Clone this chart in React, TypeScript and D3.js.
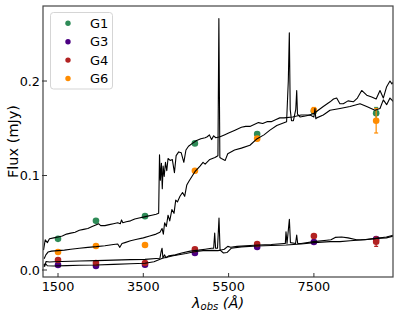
import * as d3 from "d3";

// photometric bands (observed wavelength, Å)
const bandWave = [1500, 2390, 3540, 4710, 6170, 7500, 8960];

const g1Flux = [0.033, 0.052, 0.057, 0.134, 0.144, 0.168, 0.166];
const g1Err = [0.001, 0.001, 0.001, 0.001, 0.002, 0.002, 0.006];
const g3Flux = [0.0053, 0.0042, 0.0055, 0.018, 0.0243, 0.0296, 0.0328];
const g3Err = [0.001, 0.001, 0.001, 0.001, 0.001, 0.001, 0.002];
const g4Flux = [0.0106, 0.0074, 0.0074, 0.022, 0.0275, 0.036, 0.03];
const g4Err = [0.001, 0.001, 0.001, 0.001, 0.001, 0.001, 0.005];
const g6Flux = [0.019, 0.0254, 0.0265, 0.105, 0.139, 0.169, 0.158];
const g6Err = [0.001, 0.001, 0.001, 0.002, 0.002, 0.003, 0.013];

const groups = [
  { name: "G1", color: "#2e8b57", flux: g1Flux, err: g1Err },
  { name: "G3", color: "#4b0082", flux: g3Flux, err: g3Err },
  { name: "G4", color: "#b22222", flux: g4Flux, err: g4Err },
  { name: "G6", color: "#ff8c00", flux: g6Flux, err: g6Err },
];

// model spectra [wavelength, flux]
const specA: [number, number][] = [
  [1160, 0.021], [1200, 0.032], [1250, 0.029], [1300, 0.033], [1400, 0.034], [1500, 0.035],
  [1600, 0.036], [1700, 0.038], [1800, 0.039], [1900, 0.04], [2000, 0.042], [2100, 0.043],
  [2200, 0.044], [2300, 0.046], [2400, 0.048], [2450, 0.049], [2500, 0.047], [2600, 0.047],
  [2700, 0.048], [2800, 0.049], [2900, 0.05], [2960, 0.049], [2990, 0.053], [3020, 0.05],
  [3100, 0.051], [3200, 0.052], [3300, 0.054], [3400, 0.055], [3500, 0.056], [3600, 0.057],
  [3700, 0.058], [3800, 0.059], [3860, 0.06], [3880, 0.122], [3900, 0.095], [3925, 0.113],
  [3945, 0.086], [3965, 0.11], [3990, 0.099], [4020, 0.114], [4050, 0.105], [4080, 0.118],
  [4130, 0.116], [4180, 0.117], [4230, 0.103], [4270, 0.121], [4330, 0.125], [4390, 0.124],
  [4450, 0.114], [4500, 0.127], [4560, 0.131], [4650, 0.134], [4750, 0.137], [4850, 0.139],
  [4950, 0.14], [5000, 0.141], [5050, 0.143], [5100, 0.138], [5150, 0.142], [5200, 0.14],
  [5300, 0.141], [5400, 0.143], [5500, 0.145], [5650, 0.148], [5800, 0.151], [5900, 0.152],
  [6000, 0.152], [6100, 0.154], [6200, 0.156], [6300, 0.155], [6400, 0.157], [6500, 0.157],
  [6600, 0.159], [6700, 0.161], [6800, 0.161], [7000, 0.162], [7200, 0.164], [7400, 0.164],
  [7500, 0.166], [7570, 0.168], [7720, 0.173], [7880, 0.178], [7960, 0.181], [8034, 0.182],
  [8110, 0.176], [8190, 0.176], [8300, 0.179], [8425, 0.178], [8520, 0.182], [8621, 0.19],
  [8738, 0.185], [8855, 0.183], [8960, 0.181], [9050, 0.19], [9128, 0.182], [9206, 0.194],
  [9284, 0.2], [9330, 0.197], [9370, 0.199],
];

const specB: [number, number][] = [
  [1175, 0.012], [1215, 0.016], [1265, 0.019], [1350, 0.02], [1500, 0.0205], [1650, 0.021],
  [1800, 0.022], [2000, 0.023], [2200, 0.024], [2400, 0.0247], [2600, 0.0257], [2800, 0.027],
  [2900, 0.0275], [2950, 0.024], [3000, 0.028], [3070, 0.029], [3200, 0.031], [3350, 0.0325],
  [3500, 0.034], [3650, 0.036], [3800, 0.038], [3890, 0.04], [3940, 0.044], [3970, 0.038],
  [4000, 0.05], [4040, 0.046], [4080, 0.058], [4120, 0.052], [4170, 0.064], [4220, 0.06],
  [4260, 0.074], [4300, 0.072], [4360, 0.078], [4420, 0.082], [4470, 0.078], [4520, 0.09],
  [4570, 0.094], [4640, 0.099], [4710, 0.104], [4830, 0.11], [4900, 0.114], [4950, 0.112],
  [5060, 0.117], [5180, 0.119], [5250, 0.121], [5272, 0.266], [5295, 0.119], [5330, 0.118],
  [5420, 0.116], [5480, 0.123], [5640, 0.127], [5800, 0.129], [6000, 0.132], [6170, 0.139],
  [6330, 0.143], [6470, 0.148], [6630, 0.153], [6860, 0.157], [6900, 0.2], [6924, 0.251],
  [6945, 0.17], [6975, 0.158], [7020, 0.158], [7075, 0.17], [7097, 0.19], [7115, 0.165],
  [7174, 0.162], [7300, 0.163], [7410, 0.164], [7500, 0.162], [7526, 0.171], [7545, 0.16],
  [7566, 0.161], [7720, 0.164], [7878, 0.169], [8112, 0.171], [8347, 0.173], [8582, 0.176],
  [8738, 0.173], [8933, 0.169], [9050, 0.171], [9128, 0.18], [9206, 0.175], [9284, 0.182],
  [9370, 0.178],
];

const specC: [number, number][] = [
  [1170, 0.006], [1190, 0.004], [1220, 0.009], [1300, 0.0085], [1400, 0.0088], [1600, 0.009],
  [1800, 0.0093], [2000, 0.0095], [2400, 0.0099], [2800, 0.0105], [3200, 0.011], [3540, 0.0113],
  [3800, 0.0122], [3890, 0.0125], [3920, 0.02], [3940, 0.023], [3960, 0.013], [4000, 0.016],
  [4030, 0.013], [4100, 0.015], [4250, 0.016], [4400, 0.018], [4600, 0.02], [4800, 0.021],
  [4950, 0.022], [5100, 0.023], [5150, 0.023], [5174, 0.039], [5195, 0.023], [5240, 0.023],
  [5275, 0.055], [5300, 0.021], [5400, 0.022], [5480, 0.025], [5550, 0.024], [5700, 0.025],
  [6000, 0.026], [6200, 0.0265], [6500, 0.027], [6800, 0.028], [6830, 0.028], [6846, 0.0405],
  [6870, 0.028], [6925, 0.0536], [6950, 0.029], [7070, 0.028], [7097, 0.037], [7120, 0.028],
  [7200, 0.028], [7500, 0.03], [7800, 0.0315], [7900, 0.032], [8000, 0.0345], [8150, 0.035],
  [8300, 0.034], [8500, 0.032], [8700, 0.032], [8970, 0.0335], [9200, 0.035], [9370, 0.037],
];

const specD: [number, number][] = [
  [1170, 0.0035], [1200, 0.007], [1250, 0.0045], [1400, 0.0042], [1700, 0.0046], [2000, 0.005],
  [2400, 0.0053], [2800, 0.006], [3200, 0.0066], [3540, 0.0071], [3750, 0.0088], [3950, 0.0124],
  [4200, 0.015], [4500, 0.0175], [4700, 0.0194], [4900, 0.0205], [5100, 0.0208], [5250, 0.0205],
  [5300, 0.021], [5380, 0.018], [5460, 0.0185], [5560, 0.023], [5800, 0.0245], [6170, 0.0254],
  [6500, 0.026], [6850, 0.0265], [7200, 0.0275], [7500, 0.029], [7880, 0.03], [8110, 0.03],
  [8350, 0.031], [8600, 0.0317], [8970, 0.0335], [9200, 0.034], [9370, 0.036],
];

const spectra = [specA, specB, specC, specD];

const xTicks = [1500, 3500, 5500, 7500];
const yTicks = [0.0, 0.1, 0.2];

const W = 399;
const H = 317;
const plot = { left: 43, right: 393, top: 6, bottom: 277 };

export default function App() {
  const x = d3.scaleLinear().domain([1148, 9355]).range([plot.left, plot.right]);
  const y = d3.scaleLinear().domain([-0.0074, 0.2794]).range([plot.bottom, plot.top]);
  const line = d3
    .line<[number, number]>()
    .x((d) => x(d[0]))
    .y((d) => y(d[1]));

  const font = "DejaVu Sans, sans-serif";
  const cx = (plot.left + plot.right) / 2;
  const cy = (plot.top + plot.bottom) / 2;

  return (
    <div style={{ position: "fixed", left: 0, top: 0 }}>
      <svg width={W} height={H} style={{ display: "block", background: "#fff" }}>
        <defs>
          <clipPath id="plotclip">
            <rect x={plot.left} y={plot.top} width={plot.right - plot.left} height={plot.bottom - plot.top} />
          </clipPath>
        </defs>

        {/* photometry with error bars */}
        <g clipPath="url(#plotclip)">
          {groups.map((g) => (
            <g key={g.name}>
              {bandWave.map((w, i) => {
                const px = x(w);
                const y0 = y(g.flux[i] - g.err[i]);
                const y1 = y(g.flux[i] + g.err[i]);
                return (
                  <g key={i}>
                    <line x1={px} x2={px} y1={y0} y2={y1} stroke={g.color} strokeWidth={1.2} />
                    <line x1={px - 2} x2={px + 2} y1={y0} y2={y0} stroke={g.color} strokeWidth={1.2} />
                    <line x1={px - 2} x2={px + 2} y1={y1} y2={y1} stroke={g.color} strokeWidth={1.2} />
                    <circle cx={px} cy={y(g.flux[i])} r={3.3} fill={g.color} />
                  </g>
                );
              })}
            </g>
          ))}
        </g>

        {/* spectra */}
        <g clipPath="url(#plotclip)">
          {spectra.map((s, i) => (
            <path key={i} d={line(s) ?? ""} fill="none" stroke="#000" strokeWidth={1.1} strokeLinejoin="round" />
          ))}
        </g>

        {/* frame */}
        <rect
          x={plot.left}
          y={plot.top}
          width={plot.right - plot.left}
          height={plot.bottom - plot.top}
          fill="none"
          stroke="#444"
          strokeWidth={1.2}
        />

        {/* x axis ticks */}
        {xTicks.map((t) => (
          <g key={t}>
            <line x1={x(t)} x2={x(t)} y1={plot.bottom} y2={plot.bottom - 4} stroke="#333" strokeWidth={1} />
            <text x={x(t)} y={plot.bottom + 13.5} textAnchor="middle" fontFamily={font} fontSize={12.8} fill="#000">
              {t}
            </text>
          </g>
        ))}

        {/* y axis ticks */}
        {yTicks.map((t) => (
          <g key={t}>
            <line x1={plot.left - 1} x2={plot.left + 4} y1={y(t)} y2={y(t)} stroke="#333" strokeWidth={1} />
            <text
              x={plot.left - 3}
              y={y(t)}
              dy="0.36em"
              textAnchor="end"
              fontFamily={font}
              fontSize={12.8}
              fill="#000"
            >
              {t.toFixed(1)}
            </text>
          </g>
        ))}

        {/* axis labels */}
        <text
          transform={`translate(18,${cy}) rotate(-90)`}
          textAnchor="middle"
          fontFamily={font}
          fontSize={14.5}
          fill="#000"
        >
          Flux (mJy)
        </text>
        <text x={cx} y={307.5} textAnchor="middle" fontFamily={font} fontSize={14.5} fontStyle="italic" fill="#000">
          <tspan>λ</tspan>
          <tspan fontSize={10} dy={2.5}>obs</tspan>
          <tspan dy={-2.5}> (Å)</tspan>
        </text>

        {/* legend */}
        <rect x={50.5} y={12.5} width={62} height={76.5} rx={3} fill="#fff" fillOpacity={0.85} stroke="#d5d5d5" />
        {groups.map((g, i) => (
          <g key={g.name}>
            <circle cx={68} cy={23.3 + i * 18.4} r={2.7} fill={g.color} />
            <text x={90} y={23.3 + i * 18.4} dy="0.36em" fontFamily={font} fontSize={13} fill="#000">
              {g.name}
            </text>
          </g>
        ))}
      </svg>
    </div>
  );
}
